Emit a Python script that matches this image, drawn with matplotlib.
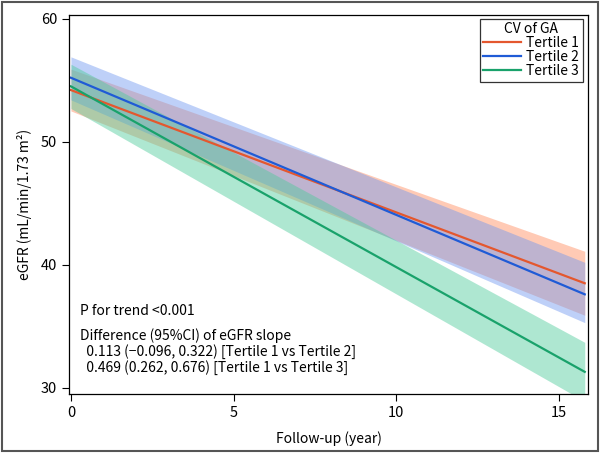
import matplotlib
matplotlib.use("Agg")
import matplotlib.pyplot as plt
from matplotlib.patches import Rectangle

plt.rcParams['font.family'] = ['Noto Sans CJK JP', 'DejaVu Sans']

# Data: start/end of fitted lines and 95% CI bands
years = [0.0, 15.8]
labels = ["Tertile 1", "Tertile 2", "Tertile 3"]
t1_mean = [54.2, 38.5]
t1_low = [52.5, 35.9]
t1_high = [55.9, 41.1]
t2_mean = [55.2, 37.6]
t2_low = [53.4, 35.3]
t2_high = [56.9, 40.2]
t3_mean = [54.5, 31.3]
t3_low = [52.7, 28.9]
t3_high = [56.3, 33.7]
x_ticks = [0, 5, 10, 15]
y_ticks = [30, 40, 50, 60]

line_colors = ["#E4572E", "#1F5BD6", "#19A26B"]
band_colors = ["#FF8A5C", "#6F97F0", "#4DCB9A"]

fig = plt.figure(figsize=(6.0, 4.53), dpi=100)
ax = fig.add_axes([69/600, 1 - 394/453, (588-69)/600, (394-15)/453])

series = [(t1_mean, t1_low, t1_high), (t2_mean, t2_low, t2_high), (t3_mean, t3_low, t3_high)]
for (m, lo, hi), lc, bc in zip(series, line_colors, band_colors):
    ax.fill_between(years, lo, hi, color=bc, alpha=0.45, linewidth=0)
for (m, lo, hi), lc, lab in zip(series, line_colors, labels):
    ax.plot(years, m, color=lc, linewidth=1.6, label=lab)

ax.set_xlim(-0.06, 15.9)
ax.set_ylim(29.5, 60.3)
ax.set_xticks(x_ticks)
ax.set_yticks(y_ticks)
ax.tick_params(direction='out', length=5, width=0.8, labelsize=10.5, colors='black')
for s in ax.spines.values():
    s.set_linewidth(0.9)

ax.set_xlabel("Follow-up (year)", fontsize=10, labelpad=8)
ax.set_ylabel("eGFR (mL/min/1.73 m²)", fontsize=10, labelpad=6)

leg = ax.legend(title="CV of GA", loc='upper right', fontsize=10, title_fontsize=10,
                frameon=True, fancybox=False, edgecolor='black', borderpad=0.25,
                handlelength=2.7, handletextpad=0.4, labelspacing=0.0,
                borderaxespad=0.0, bbox_to_anchor=(0.99, 0.99))
leg.get_frame().set_linewidth(0.9)

ax.text(0.021, 0.219, "P for trend <0.001", transform=ax.transAxes, fontsize=10, va='center')
ax.text(0.021, 0.153, "Difference (95%CI) of eGFR slope", transform=ax.transAxes, fontsize=10, va='center')
ax.text(0.021, 0.111, "  0.113 (−0.096, 0.322) [Tertile 1 vs Tertile 2]", transform=ax.transAxes, fontsize=10, va='center')
ax.text(0.021, 0.069, "  0.469 (0.262, 0.676) [Tertile 1 vs Tertile 3]", transform=ax.transAxes, fontsize=10, va='center')

fig.patches.append(Rectangle((0.004, 0.005), 0.992, 0.99, transform=fig.transFigure,
                             fill=False, edgecolor='#555555', linewidth=1.5))

fig.savefig("out.png", dpi=100)
